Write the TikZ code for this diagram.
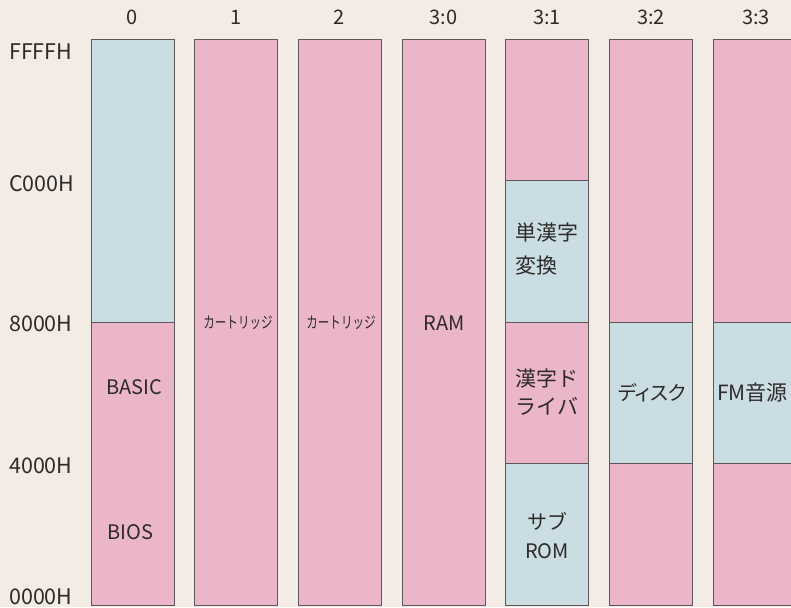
\documentclass[tikz,border=0pt]{standalone}
\usepackage{fontspec}
\usepackage{graphicx}
\setmainfont{Noto Sans CJK JP}
\newfontfamily\jpp[RawFeature=+palt]{Noto Sans CJK JP}
\definecolor{bg}{HTML}{F3ECE5}
\definecolor{pk}{HTML}{EBB6CA}
\definecolor{bl}{HTML}{C9DDE3}
\definecolor{ln}{HTML}{5E5656}
\definecolor{tx}{HTML}{2E2A2A}
\begin{document}
\begin{tikzpicture}[x=1pt,y=-1pt,
  pinkseg/.style={fill=pk, draw=ln, line width=0.9pt},
  blueseg/.style={fill=bl, draw=ln, line width=0.9pt},
  lab/.style={font=\fontsize{20}{22}\selectfont, text=tx, inner sep=0pt},
  addr/.style={font=\fontsize{21.5}{22}\selectfont, text=tx, inner sep=0pt, anchor=west},
  jlab/.style={font=\fontsize{21}{33}\selectfont, text=tx, inner sep=0pt}]
\clip (0,0) rectangle (791,607);
\fill[bg] (0,0) rectangle (791,607);
% column 0
\draw[blueseg] (91,39) rectangle (174,322);
\draw[pinkseg] (91,322) rectangle (174,605);
% columns 1, 2, 3:0
\draw[pinkseg] (194.5,39) rectangle (277.5,605);
\draw[pinkseg] (298,39) rectangle (381,605);
\draw[pinkseg] (402,39) rectangle (485,605);
% column 3:1
\draw[pinkseg] (505.5,39) rectangle (588.5,180.5);
\draw[blueseg] (505.5,180.5) rectangle (588.5,322);
\draw[pinkseg] (505.5,322) rectangle (588.5,463.5);
\draw[blueseg] (505.5,463.5) rectangle (588.5,605);
% column 3:2
\draw[pinkseg] (609.5,39) rectangle (692.5,322);
\draw[blueseg] (609.5,322) rectangle (692.5,463.5);
\draw[pinkseg] (609.5,463.5) rectangle (692.5,605);
% column 3:3
\draw[pinkseg] (713.5,39) rectangle (796.5,322);
\draw[blueseg] (713.5,322) rectangle (796.5,463.5);
\draw[pinkseg] (713.5,463.5) rectangle (796.5,605);
% headers
\node[lab] (h0) at (132.5,17) {0};
\node[lab] (h1) at (236,17) {1};
\node[lab] (h2) at (339.5,17) {2};
\node[lab] (h30) at (443.5,17) {3:0};
\node[lab] (h31) at (547,17) {3:1};
\node[lab] (h32) at (651,17) {3:2};
\node[lab] (h33) at (756,17) {3:3};
% address labels
\node[addr] (aF) at (9,52) {FFFFH};
\node[addr] (aC) at (9,184) {C000H};
\node[addr] (a8) at (9,324) {8000H};
\node[addr] (a4) at (9,466) {4000H};
\node[addr] (a0) at (9,597) {0000H};
% contents
\node[lab, anchor=west] (basic) at (106,387) {BASIC};
\node[lab, anchor=west] (bios) at (107,532) {BIOS};
\node[lab, font=\fontsize{16}{18}\selectfont] (cart1) at (238,323) {\scalebox{0.72}[1]{カートリッジ}};
\node[lab, font=\fontsize{16}{18}\selectfont] (cart2) at (341,323) {\scalebox{0.72}[1]{カートリッジ}};
\node[lab] (ram) at (444,323) {RAM};
\node[jlab, align=left] (tan) at (547,249) {単漢字\\変換};
\node[jlab, align=left, font=\fontsize{21}{28}\selectfont] (drv) at (547,392) {漢字ド\\ライバ};
\node[jlab, align=center, font=\fontsize{20}{29}\selectfont] (sub) at (547,536) {サブ\\ROM};
\node[jlab, font=\fontsize{20}{22}\selectfont\jpp] (disk) at (652,393) {ディスク};
\node[jlab, anchor=west, font=\fontsize{21}{22}\selectfont] (fm) at (717,393) {FM音源};
\end{tikzpicture}
\end{document}
